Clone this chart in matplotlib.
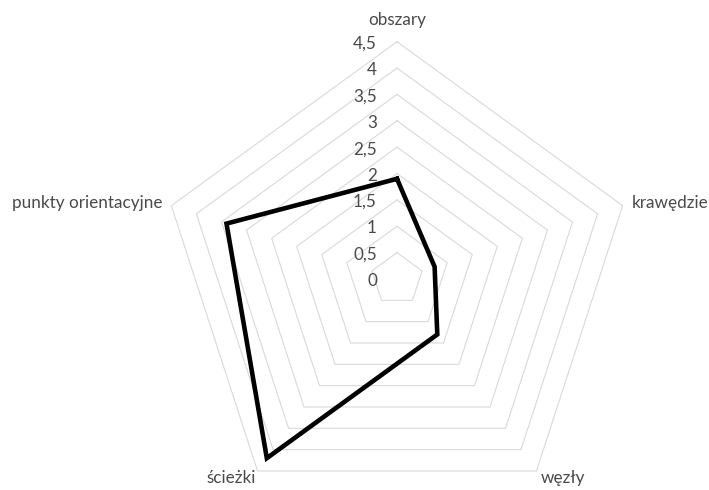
import matplotlib.pyplot as plt
import numpy as np

categories = ['obszary', 'krawędzie', 'węzły', 'ścieżki', 'punkty orientacyjne']
values = [1.9, 0.75, 1.3, 4.2, 3.4]
ticks = [0, 0.5, 1, 1.5, 2, 2.5, 3, 3.5, 4, 4.5]
tick_labels = ['0', '0,5', '1', '1,5', '2', '2,5', '3', '3,5', '4', '4,5']

plt.rcParams['font.family'] = ['Lato', 'DejaVu Sans']
grey = '#4a4a4a'
fs = 12.3

fig = plt.figure(figsize=(7.09, 4.90), dpi=100)
ax = fig.add_axes([0, 0, 1, 1])
ax.set_xlim(-397 / 52.73, (709 - 397) / 52.73)
ax.set_ylim(-(490 - 279) / 52.73, 279 / 52.73)
ax.axis('off')

n = len(categories)
ang = np.pi / 2 - np.arange(n) * 2 * np.pi / n
ca, sa = np.cos(ang), np.sin(ang)


def closed(r):
    x = r * ca
    y = r * sa
    return np.append(x, x[0]), np.append(y, y[0])


# grid rings
for t in ticks[1:]:
    gx, gy = closed(t)
    ax.plot(gx, gy, color='#d9d9d9', lw=0.8, zorder=1)

# tick labels
for t, lab in zip(ticks, tick_labels):
    ax.text(-0.38, t - 0.04, lab, ha='right', va='center', fontsize=fs, color=grey)

# data
dx, dy = closed(np.array(values))
ax.plot(dx, dy, color='black', lw=3.3, solid_joinstyle='miter', zorder=3)

# category labels
R = ticks[-1]
ax.text(0, R + 0.42, categories[0], ha='center', va='center', fontsize=fs, color=grey)
ax.text(R * ca[1] + 0.17, R * sa[1] + 0.05, categories[1], ha='left', va='center',
        fontsize=fs, color=grey)
ax.text(R * ca[2] + 0.5, R * sa[2] - 0.14, categories[2], ha='center', va='center',
        fontsize=fs, color=grey)
ax.text(R * ca[3] - 0.5, R * sa[3] - 0.14, categories[3], ha='center', va='center',
        fontsize=fs, color=grey)
ax.text(R * ca[4] - 0.17, R * sa[4] + 0.05, categories[4], ha='right', va='center',
        fontsize=fs, color=grey)

fig.savefig('out.png', dpi=100)
